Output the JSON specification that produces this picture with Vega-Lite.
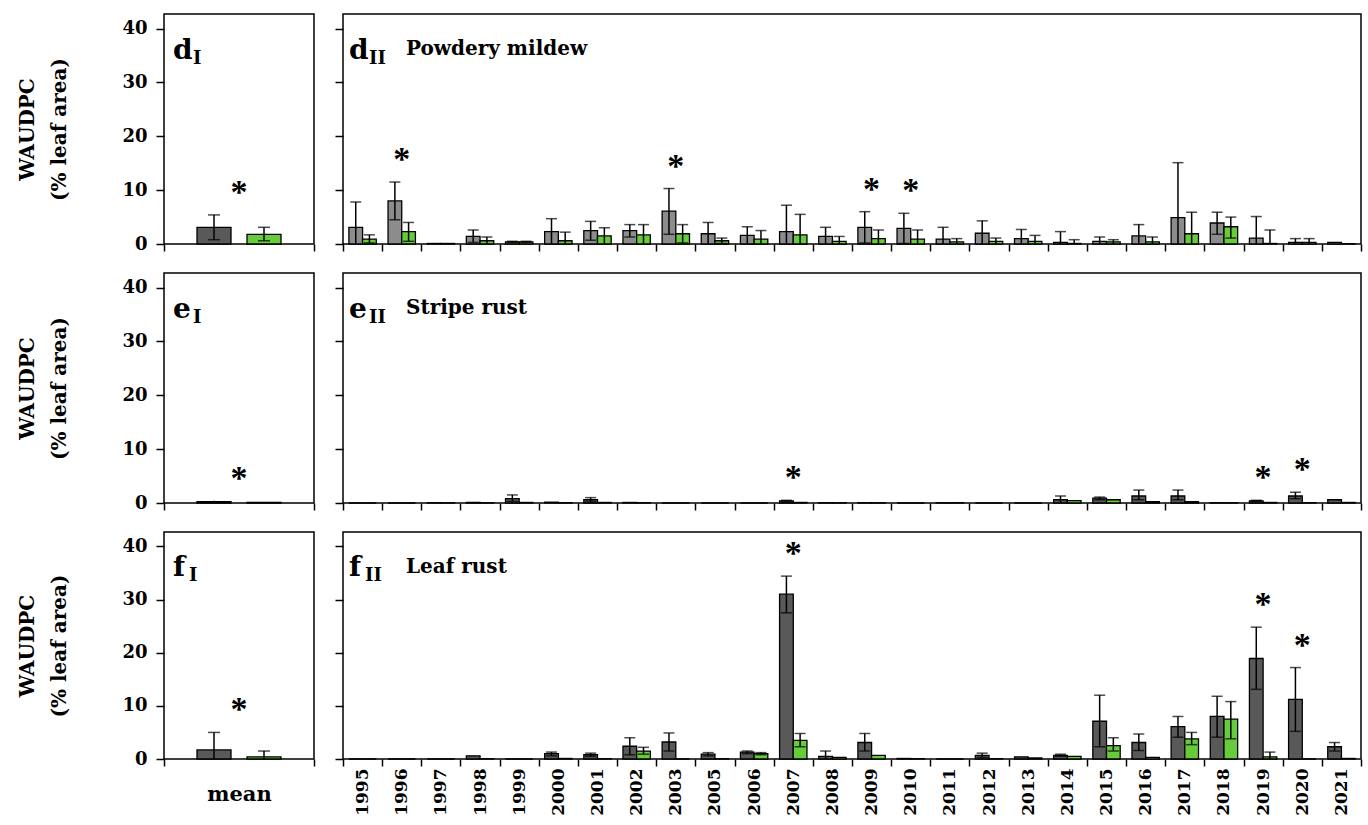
{
  "$schema": "https://vega.github.io/schema/vega-lite/v6.json",
  "autosize": {"type": "pad"},
  "padding": {"left": 17, "top": 13, "right": 0, "bottom": 0},
  "background": "white",
  "config": {
    "view": {"stroke": "black", "strokeWidth": 1.5},
    "axis": {"domain": false, "grid": false, "tickColor": "black", "tickWidth": 1.5, "labelFont": "DejaVu Serif", "labelFontWeight": "bold", "labelColor": "black", "titleColor": "black", "titleFont": "DejaVu Serif", "titleFontWeight": "bold"},
    "axisY": {"tickSize": 8, "labelFontSize": 18, "labelPadding": 9, "titleFontSize": 20, "titleLineHeight": 32, "titlePadding": 52},
    "axisX": {"tickSize": 7, "tickBand": "extent", "labelOverlap": false},
    "text": {"font": "DejaVu Serif", "fontWeight": "bold", "color": "black"}
  },
  "datasets": {
    "years": [
      {"p":"d","year":"1995","trt":"A","m":3.1,"lo":0,"hi":7.8},{"p":"d","year":"1995","trt":"B","m":0.9,"lo":0.2,"hi":1.7},
      {"p":"d","year":"1996","trt":"A","m":8.0,"lo":4.5,"hi":11.5,"s":"*"},{"p":"d","year":"1996","trt":"B","m":2.3,"lo":0.5,"hi":4.0},
      {"p":"d","year":"1997","trt":"A","m":0.1},{"p":"d","year":"1997","trt":"B","m":0.1},
      {"p":"d","year":"1998","trt":"A","m":1.4,"lo":0.3,"hi":2.6},{"p":"d","year":"1998","trt":"B","m":0.6,"lo":0,"hi":1.3},
      {"p":"d","year":"1999","trt":"A","m":0.4,"lo":0.3,"hi":0.5},{"p":"d","year":"1999","trt":"B","m":0.4,"lo":0.3,"hi":0.5},
      {"p":"d","year":"2000","trt":"A","m":2.3,"lo":0,"hi":4.7},{"p":"d","year":"2000","trt":"B","m":0.6,"lo":0,"hi":2.2},
      {"p":"d","year":"2001","trt":"A","m":2.5,"lo":0.7,"hi":4.2},{"p":"d","year":"2001","trt":"B","m":1.5,"lo":0,"hi":3.0},
      {"p":"d","year":"2002","trt":"A","m":2.5,"lo":1.3,"hi":3.6},{"p":"d","year":"2002","trt":"B","m":1.7,"lo":0,"hi":3.6},
      {"p":"d","year":"2003","trt":"A","m":6.1,"lo":1.8,"hi":10.3,"s":"*"},{"p":"d","year":"2003","trt":"B","m":1.9,"lo":0.2,"hi":3.6},
      {"p":"d","year":"2005","trt":"A","m":1.9,"lo":0,"hi":4.0},{"p":"d","year":"2005","trt":"B","m":0.6,"lo":0.1,"hi":1.1},
      {"p":"d","year":"2006","trt":"A","m":1.6,"lo":0,"hi":3.2},{"p":"d","year":"2006","trt":"B","m":0.9,"lo":0,"hi":2.5},
      {"p":"d","year":"2007","trt":"A","m":2.3,"lo":0,"hi":7.2},{"p":"d","year":"2007","trt":"B","m":1.7,"lo":0,"hi":5.5},
      {"p":"d","year":"2008","trt":"A","m":1.4,"lo":0,"hi":3.1},{"p":"d","year":"2008","trt":"B","m":0.5,"lo":0,"hi":1.4},
      {"p":"d","year":"2009","trt":"A","m":3.1,"lo":0.2,"hi":6.0,"s":"*"},{"p":"d","year":"2009","trt":"B","m":1.0,"lo":0,"hi":2.6},
      {"p":"d","year":"2010","trt":"A","m":2.9,"lo":0.1,"hi":5.7,"s":"*"},{"p":"d","year":"2010","trt":"B","m":0.9,"lo":0,"hi":2.6},
      {"p":"d","year":"2011","trt":"A","m":0.9,"lo":0,"hi":3.1},{"p":"d","year":"2011","trt":"B","m":0.4,"lo":0,"hi":1.0},
      {"p":"d","year":"2012","trt":"A","m":2.0,"lo":0,"hi":4.3},{"p":"d","year":"2012","trt":"B","m":0.5,"lo":0,"hi":1.1},
      {"p":"d","year":"2013","trt":"A","m":1.0,"lo":0,"hi":2.7},{"p":"d","year":"2013","trt":"B","m":0.5,"lo":0,"hi":1.6},
      {"p":"d","year":"2014","trt":"A","m":0.3,"lo":0,"hi":2.3},{"p":"d","year":"2014","trt":"B","m":0.1,"lo":0,"hi":0.8},
      {"p":"d","year":"2015","trt":"A","m":0.5,"lo":0,"hi":1.3},{"p":"d","year":"2015","trt":"B","m":0.4,"lo":0,"hi":0.8},
      {"p":"d","year":"2016","trt":"A","m":1.5,"lo":0,"hi":3.6},{"p":"d","year":"2016","trt":"B","m":0.4,"lo":0,"hi":1.3},
      {"p":"d","year":"2017","trt":"A","m":4.9,"lo":0,"hi":15.1},{"p":"d","year":"2017","trt":"B","m":1.9,"lo":0,"hi":5.9},
      {"p":"d","year":"2018","trt":"A","m":3.9,"lo":1.8,"hi":5.9},{"p":"d","year":"2018","trt":"B","m":3.2,"lo":1.1,"hi":5.0},
      {"p":"d","year":"2019","trt":"A","m":1.1,"lo":0,"hi":5.1},{"p":"d","year":"2019","trt":"B","m":0.1,"lo":0,"hi":2.6},
      {"p":"d","year":"2020","trt":"A","m":0.3,"lo":0,"hi":1.0},{"p":"d","year":"2020","trt":"B","m":0.3,"lo":0,"hi":1.0},
      {"p":"d","year":"2021","trt":"A","m":0.3},{"p":"d","year":"2021","trt":"B","m":0.05},

      {"p":"e","year":"1995","trt":"A","m":0},{"p":"e","year":"1995","trt":"B","m":0},
      {"p":"e","year":"1996","trt":"A","m":0},{"p":"e","year":"1996","trt":"B","m":0},
      {"p":"e","year":"1997","trt":"A","m":0.05},{"p":"e","year":"1997","trt":"B","m":0.05},
      {"p":"e","year":"1998","trt":"A","m":0.1},{"p":"e","year":"1998","trt":"B","m":0.05},
      {"p":"e","year":"1999","trt":"A","m":0.8,"lo":0.3,"hi":1.5},{"p":"e","year":"1999","trt":"B","m":0.1},
      {"p":"e","year":"2000","trt":"A","m":0.15},{"p":"e","year":"2000","trt":"B","m":0.05},
      {"p":"e","year":"2001","trt":"A","m":0.6,"lo":0.2,"hi":1.0},{"p":"e","year":"2001","trt":"B","m":0.1},
      {"p":"e","year":"2002","trt":"A","m":0.1},{"p":"e","year":"2002","trt":"B","m":0.05},
      {"p":"e","year":"2003","trt":"A","m":0},{"p":"e","year":"2003","trt":"B","m":0},
      {"p":"e","year":"2005","trt":"A","m":0},{"p":"e","year":"2005","trt":"B","m":0},
      {"p":"e","year":"2006","trt":"A","m":0},{"p":"e","year":"2006","trt":"B","m":0},
      {"p":"e","year":"2007","trt":"A","m":0.4,"lo":0.2,"hi":0.5,"s":"*"},{"p":"e","year":"2007","trt":"B","m":0.1},
      {"p":"e","year":"2008","trt":"A","m":0.05},{"p":"e","year":"2008","trt":"B","m":0.05},
      {"p":"e","year":"2009","trt":"A","m":0.05},{"p":"e","year":"2009","trt":"B","m":0.05},
      {"p":"e","year":"2010","trt":"A","m":0},{"p":"e","year":"2010","trt":"B","m":0},
      {"p":"e","year":"2011","trt":"A","m":0.05},{"p":"e","year":"2011","trt":"B","m":0.05},
      {"p":"e","year":"2012","trt":"A","m":0},{"p":"e","year":"2012","trt":"B","m":0},
      {"p":"e","year":"2013","trt":"A","m":0},{"p":"e","year":"2013","trt":"B","m":0},
      {"p":"e","year":"2014","trt":"A","m":0.6,"lo":0,"hi":1.3},{"p":"e","year":"2014","trt":"B","m":0.45},
      {"p":"e","year":"2015","trt":"A","m":0.9,"lo":0.6,"hi":1.1},{"p":"e","year":"2015","trt":"B","m":0.6},
      {"p":"e","year":"2016","trt":"A","m":1.3,"lo":0.6,"hi":2.4},{"p":"e","year":"2016","trt":"B","m":0.25},
      {"p":"e","year":"2017","trt":"A","m":1.3,"lo":0.6,"hi":2.4},{"p":"e","year":"2017","trt":"B","m":0.25},
      {"p":"e","year":"2018","trt":"A","m":0.05},{"p":"e","year":"2018","trt":"B","m":0.05},
      {"p":"e","year":"2019","trt":"A","m":0.4,"lo":0.3,"hi":0.5,"s":"*"},{"p":"e","year":"2019","trt":"B","m":0.1},
      {"p":"e","year":"2020","trt":"A","m":1.3,"lo":0.8,"hi":2.0,"s":"*"},{"p":"e","year":"2020","trt":"B","m":0.05},
      {"p":"e","year":"2021","trt":"A","m":0.6},{"p":"e","year":"2021","trt":"B","m":0.1},

      {"p":"f","year":"1995","trt":"A","m":0},{"p":"f","year":"1995","trt":"B","m":0},
      {"p":"f","year":"1996","trt":"A","m":0},{"p":"f","year":"1996","trt":"B","m":0},
      {"p":"f","year":"1997","trt":"A","m":0},{"p":"f","year":"1997","trt":"B","m":0},
      {"p":"f","year":"1998","trt":"A","m":0.6},{"p":"f","year":"1998","trt":"B","m":0.05},
      {"p":"f","year":"1999","trt":"A","m":0},{"p":"f","year":"1999","trt":"B","m":0},
      {"p":"f","year":"2000","trt":"A","m":1.0,"lo":0.6,"hi":1.3},{"p":"f","year":"2000","trt":"B","m":0.1},
      {"p":"f","year":"2001","trt":"A","m":0.8,"lo":0.5,"hi":1.1},{"p":"f","year":"2001","trt":"B","m":0.05},
      {"p":"f","year":"2002","trt":"A","m":2.4,"lo":0.8,"hi":4.0},{"p":"f","year":"2002","trt":"B","m":1.5,"lo":0.9,"hi":2.2},
      {"p":"f","year":"2003","trt":"A","m":3.2,"lo":1.5,"hi":4.9},{"p":"f","year":"2003","trt":"B","m":0},
      {"p":"f","year":"2005","trt":"A","m":0.9,"lo":0.6,"hi":1.2},{"p":"f","year":"2005","trt":"B","m":0.05},
      {"p":"f","year":"2006","trt":"A","m":1.3,"lo":1.0,"hi":1.5},{"p":"f","year":"2006","trt":"B","m":1.0,"lo":0.8,"hi":1.2},
      {"p":"f","year":"2007","trt":"A","m":31.0,"lo":27.5,"hi":34.4,"s":"*"},{"p":"f","year":"2007","trt":"B","m":3.5,"lo":2.3,"hi":4.8},
      {"p":"f","year":"2008","trt":"A","m":0.5,"lo":0,"hi":1.5},{"p":"f","year":"2008","trt":"B","m":0.3},
      {"p":"f","year":"2009","trt":"A","m":3.1,"lo":1.5,"hi":4.8},{"p":"f","year":"2009","trt":"B","m":0.7},
      {"p":"f","year":"2010","trt":"A","m":0.1},{"p":"f","year":"2010","trt":"B","m":0.05},
      {"p":"f","year":"2011","trt":"A","m":0},{"p":"f","year":"2011","trt":"B","m":0},
      {"p":"f","year":"2012","trt":"A","m":0.7,"lo":0.3,"hi":1.1},{"p":"f","year":"2012","trt":"B","m":0.05},
      {"p":"f","year":"2013","trt":"A","m":0.4},{"p":"f","year":"2013","trt":"B","m":0.2},
      {"p":"f","year":"2014","trt":"A","m":0.7,"lo":0.5,"hi":0.9},{"p":"f","year":"2014","trt":"B","m":0.5},
      {"p":"f","year":"2015","trt":"A","m":7.1,"lo":2.3,"hi":12.0},{"p":"f","year":"2015","trt":"B","m":2.5,"lo":1.5,"hi":4.0},
      {"p":"f","year":"2016","trt":"A","m":3.1,"lo":1.6,"hi":4.7},{"p":"f","year":"2016","trt":"B","m":0.3},
      {"p":"f","year":"2017","trt":"A","m":6.1,"lo":4.1,"hi":8.0},{"p":"f","year":"2017","trt":"B","m":3.8,"lo":2.7,"hi":5.0},
      {"p":"f","year":"2018","trt":"A","m":8.0,"lo":4.1,"hi":11.8},{"p":"f","year":"2018","trt":"B","m":7.5,"lo":3.8,"hi":10.8},
      {"p":"f","year":"2019","trt":"A","m":18.9,"lo":13.1,"hi":24.8,"s":"*"},{"p":"f","year":"2019","trt":"B","m":0.4,"lo":0,"hi":1.3},
      {"p":"f","year":"2020","trt":"A","m":11.2,"lo":5.2,"hi":17.2,"s":"*"},{"p":"f","year":"2020","trt":"B","m":0},
      {"p":"f","year":"2021","trt":"A","m":2.3,"lo":1.5,"hi":3.1},{"p":"f","year":"2021","trt":"B","m":0.1}
    ],
    "means": [
      {"p":"d","cat":"mean","trt":"A","m":3.1,"lo":0.8,"hi":5.4,"s":"*"},{"p":"d","cat":"mean","trt":"B","m":1.8,"lo":0.6,"hi":3.1},
      {"p":"e","cat":"mean","trt":"A","m":0.25,"lo":0.1,"hi":0.4,"s":"*"},{"p":"e","cat":"mean","trt":"B","m":0.1},
      {"p":"f","cat":"mean","trt":"A","m":1.7,"lo":0,"hi":5.0,"s":"*"},{"p":"f","cat":"mean","trt":"B","m":0.4,"lo":0,"hi":1.5}
    ],
    "labels": [
      {"p":"d","letter":"d","sub1":"I","sub2":"II","name":"Powdery mildew"},
      {"p":"e","letter":"e","sub1":"I","sub2":"II","name":"Stripe rust"},
      {"p":"f","letter":"f","sub1":"I","sub2":"II","name":"Leaf rust"}
    ]
  },
  "spacing": 18,
  "resolve": {"scale": {"xOffset": "independent"}},
  "vconcat": [
    {"spacing": 17, "resolve": {"scale": {"xOffset": "independent"}}, "hconcat": [
      {"width": 150, "height": 230, "layer": [
        {"data": {"name": "means"}, "transform": [{"filter": "datum.p === 'd'"}],
         "mark": {"type": "bar", "stroke": "black", "strokeWidth": 1.3},
         "encoding": {
           "x": {"field": "cat", "type": "nominal", "scale": {"type": "band", "paddingInner": 0, "paddingOuter": 0}, "axis": {"title": null, "labels": false}},
           "xOffset": {"field": "trt", "type": "nominal", "scale": {"type": "band", "paddingInner": 0.32, "paddingOuter": 0.66}},
           "y": {"field": "m", "type": "quantitative", "scale": {"domain": [0, 42.7], "nice": false}, "axis": {"values": [0,10,20,30,40], "title": ["WAUDPC", "(% leaf area)"]}},
           "fill": {"condition": {"test": "datum.trt === 'B'", "value": "#66cc3c"}, "value": "#595959"}}},
        {"data": {"name": "means"}, "transform": [{"filter": "datum.p === 'd' && datum.hi != null"}],
         "mark": {"type": "rule", "color": "black", "strokeWidth": 1.5},
         "encoding": {
           "x": {"field": "cat", "type": "nominal", "scale": {"type": "band", "paddingInner": 0, "paddingOuter": 0}, "axis": {"title": null, "labels": false}},
           "xOffset": {"field": "trt", "type": "nominal", "scale": {"type": "band", "paddingInner": 0.32, "paddingOuter": 0.66}},
           "y": {"field": "lo", "type": "quantitative", "scale": {"domain": [0, 42.7], "nice": false}, "axis": {"values": [0,10,20,30,40], "title": ["WAUDPC", "(% leaf area)"]}},
           "y2": {"field": "hi"}}},
        {"data": {"name": "means"}, "transform": [{"filter": "datum.p === 'd' && datum.hi != null"}],
         "mark": {"type": "tick", "color": "black", "thickness": 1.5, "size": 12},
         "encoding": {
           "x": {"field": "cat", "type": "nominal", "scale": {"type": "band", "paddingInner": 0, "paddingOuter": 0}, "axis": {"title": null, "labels": false}},
           "xOffset": {"field": "trt", "type": "nominal", "scale": {"type": "band", "paddingInner": 0.32, "paddingOuter": 0.66}},
           "y": {"field": "hi", "type": "quantitative", "scale": {"domain": [0, 42.7], "nice": false}, "axis": {"values": [0,10,20,30,40], "title": ["WAUDPC", "(% leaf area)"]}}}},
        {"data": {"name": "means"}, "transform": [{"filter": "datum.p === 'd' && datum.lo > 0"}],
         "mark": {"type": "tick", "color": "black", "thickness": 1.5, "size": 12},
         "encoding": {
           "x": {"field": "cat", "type": "nominal", "scale": {"type": "band", "paddingInner": 0, "paddingOuter": 0}, "axis": {"title": null, "labels": false}},
           "xOffset": {"field": "trt", "type": "nominal", "scale": {"type": "band", "paddingInner": 0.32, "paddingOuter": 0.66}},
           "y": {"field": "lo", "type": "quantitative", "scale": {"domain": [0, 42.7], "nice": false}, "axis": {"values": [0,10,20,30,40], "title": ["WAUDPC", "(% leaf area)"]}}}},
        {"data": {"name": "means"}, "transform": [{"filter": "datum.p === 'd' && datum.s === '*'"}],
         "mark": {"type": "text", "fontSize": 34, "baseline": "alphabetic", "dy": -12, "font": "Liberation Serif"},
         "encoding": {
           "x": {"field": "cat", "type": "nominal", "scale": {"type": "band", "paddingInner": 0, "paddingOuter": 0}, "axis": {"title": null, "labels": false}},
           "y": {"field": "hi", "type": "quantitative", "scale": {"domain": [0, 42.7], "nice": false}, "axis": {"values": [0,10,20,30,40], "title": ["WAUDPC", "(% leaf area)"]}},
           "text": {"field": "s"}}},
        {"data": {"name": "labels"}, "transform": [{"filter": "datum.p === 'd'"}],
         "mark": {"type": "text", "fontSize": 28, "align": "left", "baseline": "alphabetic", "dx": -66},
         "encoding": {
           "x": {"datum": "mean", "type": "nominal", "scale": {"type": "band", "paddingInner": 0, "paddingOuter": 0}, "axis": {"title": null, "labels": false}},
           "y": {"datum": 34.4, "type": "quantitative", "scale": {"domain": [0, 42.7], "nice": false}, "axis": {"values": [0,10,20,30,40], "title": ["WAUDPC", "(% leaf area)"]}},
           "text": {"field": "letter"}}},
        {"data": {"name": "labels"}, "transform": [{"filter": "datum.p === 'd'"}],
         "mark": {"type": "text", "fontSize": 18, "align": "left", "baseline": "alphabetic", "dx": -46},
         "encoding": {
           "x": {"datum": "mean", "type": "nominal", "scale": {"type": "band", "paddingInner": 0, "paddingOuter": 0}, "axis": {"title": null, "labels": false}},
           "y": {"datum": 33.4, "type": "quantitative", "scale": {"domain": [0, 42.7], "nice": false}, "axis": {"values": [0,10,20,30,40], "title": ["WAUDPC", "(% leaf area)"]}},
           "text": {"field": "sub1"}}}
      ]},
      {"width": 1018, "height": 230, "layer": [
        {"data": {"name": "years"}, "transform": [{"filter": "datum.p === 'd'"}],
         "mark": {"type": "bar", "stroke": "black", "strokeWidth": 1.3},
         "encoding": {
           "x": {"field": "year", "type": "nominal", "scale": {"type": "band", "domain": ["1995","1996","1997","1998","1999","2000","2001","2002","2003","2005","2006","2007","2008","2009","2010","2011","2012","2013","2014","2015","2016","2017","2018","2019","2020","2021"], "paddingInner": 0, "paddingOuter": 0}, "axis": {"title": null, "labels": false}},
           "xOffset": {"field": "trt", "type": "nominal", "scale": {"type": "band", "paddingInner": 0, "paddingOuter": 0.43}},
           "y": {"field": "m", "type": "quantitative", "scale": {"domain": [0, 42.7], "nice": false}, "axis": {"values": [0,10,20,30,40], "title": null, "labels": false}},
           "fill": {"condition": {"test": "datum.trt === 'B'", "value": "#66cc3c"}, "value": "#8c8c8c"}}},
        {"data": {"name": "years"}, "transform": [{"filter": "datum.p === 'd' && datum.hi != null"}],
         "mark": {"type": "rule", "color": "black", "strokeWidth": 1.5},
         "encoding": {
           "x": {"field": "year", "type": "nominal", "scale": {"type": "band", "domain": ["1995","1996","1997","1998","1999","2000","2001","2002","2003","2005","2006","2007","2008","2009","2010","2011","2012","2013","2014","2015","2016","2017","2018","2019","2020","2021"], "paddingInner": 0, "paddingOuter": 0}, "axis": {"title": null, "labels": false}},
           "xOffset": {"field": "trt", "type": "nominal", "scale": {"type": "band", "paddingInner": 0, "paddingOuter": 0.43}},
           "y": {"field": "lo", "type": "quantitative", "scale": {"domain": [0, 42.7], "nice": false}, "axis": {"values": [0,10,20,30,40], "title": null, "labels": false}},
           "y2": {"field": "hi"}}},
        {"data": {"name": "years"}, "transform": [{"filter": "datum.p === 'd' && datum.hi != null"}],
         "mark": {"type": "tick", "color": "black", "thickness": 1.5, "size": 11},
         "encoding": {
           "x": {"field": "year", "type": "nominal", "scale": {"type": "band", "domain": ["1995","1996","1997","1998","1999","2000","2001","2002","2003","2005","2006","2007","2008","2009","2010","2011","2012","2013","2014","2015","2016","2017","2018","2019","2020","2021"], "paddingInner": 0, "paddingOuter": 0}, "axis": {"title": null, "labels": false}},
           "xOffset": {"field": "trt", "type": "nominal", "scale": {"type": "band", "paddingInner": 0, "paddingOuter": 0.43}},
           "y": {"field": "hi", "type": "quantitative", "scale": {"domain": [0, 42.7], "nice": false}, "axis": {"values": [0,10,20,30,40], "title": null, "labels": false}}}},
        {"data": {"name": "years"}, "transform": [{"filter": "datum.p === 'd' && datum.lo > 0"}],
         "mark": {"type": "tick", "color": "black", "thickness": 1.5, "size": 11},
         "encoding": {
           "x": {"field": "year", "type": "nominal", "scale": {"type": "band", "domain": ["1995","1996","1997","1998","1999","2000","2001","2002","2003","2005","2006","2007","2008","2009","2010","2011","2012","2013","2014","2015","2016","2017","2018","2019","2020","2021"], "paddingInner": 0, "paddingOuter": 0}, "axis": {"title": null, "labels": false}},
           "xOffset": {"field": "trt", "type": "nominal", "scale": {"type": "band", "paddingInner": 0, "paddingOuter": 0.43}},
           "y": {"field": "lo", "type": "quantitative", "scale": {"domain": [0, 42.7], "nice": false}, "axis": {"values": [0,10,20,30,40], "title": null, "labels": false}}}},
        {"data": {"name": "years"}, "transform": [{"filter": "datum.p === 'd' && datum.s === '*'"}],
         "mark": {"type": "text", "fontSize": 34, "baseline": "alphabetic", "dy": -12, "font": "Liberation Serif"},
         "encoding": {
           "x": {"field": "year", "type": "nominal", "scale": {"type": "band", "domain": ["1995","1996","1997","1998","1999","2000","2001","2002","2003","2005","2006","2007","2008","2009","2010","2011","2012","2013","2014","2015","2016","2017","2018","2019","2020","2021"], "paddingInner": 0, "paddingOuter": 0}, "axis": {"title": null, "labels": false}},
           "y": {"field": "hi", "type": "quantitative", "scale": {"domain": [0, 42.7], "nice": false}, "axis": {"values": [0,10,20,30,40], "title": null, "labels": false}},
           "text": {"field": "s"}}},
        {"data": {"name": "labels"}, "transform": [{"filter": "datum.p === 'd'"}],
         "mark": {"type": "text", "fontSize": 28, "align": "left", "baseline": "alphabetic", "dx": -13.6},
         "encoding": {
           "x": {"datum": "1995", "type": "nominal", "scale": {"type": "band", "domain": ["1995","1996","1997","1998","1999","2000","2001","2002","2003","2005","2006","2007","2008","2009","2010","2011","2012","2013","2014","2015","2016","2017","2018","2019","2020","2021"], "paddingInner": 0, "paddingOuter": 0}, "axis": {"title": null, "labels": false}},
           "y": {"datum": 34.4, "type": "quantitative", "scale": {"domain": [0, 42.7], "nice": false}, "axis": {"values": [0,10,20,30,40], "title": null, "labels": false}},
           "text": {"field": "letter"}}},
        {"data": {"name": "labels"}, "transform": [{"filter": "datum.p === 'd'"}],
         "mark": {"type": "text", "fontSize": 18, "align": "left", "baseline": "alphabetic", "dx": 6.5},
         "encoding": {
           "x": {"datum": "1995", "type": "nominal", "scale": {"type": "band", "domain": ["1995","1996","1997","1998","1999","2000","2001","2002","2003","2005","2006","2007","2008","2009","2010","2011","2012","2013","2014","2015","2016","2017","2018","2019","2020","2021"], "paddingInner": 0, "paddingOuter": 0}, "axis": {"title": null, "labels": false}},
           "y": {"datum": 33.4, "type": "quantitative", "scale": {"domain": [0, 42.7], "nice": false}, "axis": {"values": [0,10,20,30,40], "title": null, "labels": false}},
           "text": {"field": "sub2"}}},
        {"data": {"name": "labels"}, "transform": [{"filter": "datum.p === 'd'"}],
         "mark": {"type": "text", "fontSize": 20, "align": "left", "baseline": "alphabetic", "dx": 43.4},
         "encoding": {
           "x": {"datum": "1995", "type": "nominal", "scale": {"type": "band", "domain": ["1995","1996","1997","1998","1999","2000","2001","2002","2003","2005","2006","2007","2008","2009","2010","2011","2012","2013","2014","2015","2016","2017","2018","2019","2020","2021"], "paddingInner": 0, "paddingOuter": 0}, "axis": {"title": null, "labels": false}},
           "y": {"datum": 35.0, "type": "quantitative", "scale": {"domain": [0, 42.7], "nice": false}, "axis": {"values": [0,10,20,30,40], "title": null, "labels": false}},
           "text": {"field": "name"}}}
      ]}
    ]},
    {"spacing": 17, "resolve": {"scale": {"xOffset": "independent"}}, "hconcat": [
      {"width": 150, "height": 230, "layer": [
        {"data": {"name": "means"}, "transform": [{"filter": "datum.p === 'e'"}],
         "mark": {"type": "bar", "stroke": "black", "strokeWidth": 1.3},
         "encoding": {
           "x": {"field": "cat", "type": "nominal", "scale": {"type": "band", "paddingInner": 0, "paddingOuter": 0}, "axis": {"title": null, "labels": false}},
           "xOffset": {"field": "trt", "type": "nominal", "scale": {"type": "band", "paddingInner": 0.32, "paddingOuter": 0.66}},
           "y": {"field": "m", "type": "quantitative", "scale": {"domain": [0, 42.7], "nice": false}, "axis": {"values": [0,10,20,30,40], "title": ["WAUDPC", "(% leaf area)"]}},
           "fill": {"condition": {"test": "datum.trt === 'B'", "value": "#66cc3c"}, "value": "#595959"}}},
        {"data": {"name": "means"}, "transform": [{"filter": "datum.p === 'e' && datum.hi != null"}],
         "mark": {"type": "rule", "color": "black", "strokeWidth": 1.5},
         "encoding": {
           "x": {"field": "cat", "type": "nominal", "scale": {"type": "band", "paddingInner": 0, "paddingOuter": 0}, "axis": {"title": null, "labels": false}},
           "xOffset": {"field": "trt", "type": "nominal", "scale": {"type": "band", "paddingInner": 0.32, "paddingOuter": 0.66}},
           "y": {"field": "lo", "type": "quantitative", "scale": {"domain": [0, 42.7], "nice": false}, "axis": {"values": [0,10,20,30,40], "title": ["WAUDPC", "(% leaf area)"]}},
           "y2": {"field": "hi"}}},
        {"data": {"name": "means"}, "transform": [{"filter": "datum.p === 'e' && datum.s === '*'"}],
         "mark": {"type": "text", "fontSize": 34, "baseline": "alphabetic", "dy": -12, "font": "Liberation Serif"},
         "encoding": {
           "x": {"field": "cat", "type": "nominal", "scale": {"type": "band", "paddingInner": 0, "paddingOuter": 0}, "axis": {"title": null, "labels": false}},
           "y": {"field": "hi", "type": "quantitative", "scale": {"domain": [0, 42.7], "nice": false}, "axis": {"values": [0,10,20,30,40], "title": ["WAUDPC", "(% leaf area)"]}},
           "text": {"field": "s"}}},
        {"data": {"name": "labels"}, "transform": [{"filter": "datum.p === 'e'"}],
         "mark": {"type": "text", "fontSize": 28, "align": "left", "baseline": "alphabetic", "dx": -66},
         "encoding": {
           "x": {"datum": "mean", "type": "nominal", "scale": {"type": "band", "paddingInner": 0, "paddingOuter": 0}, "axis": {"title": null, "labels": false}},
           "y": {"datum": 34.4, "type": "quantitative", "scale": {"domain": [0, 42.7], "nice": false}, "axis": {"values": [0,10,20,30,40], "title": ["WAUDPC", "(% leaf area)"]}},
           "text": {"field": "letter"}}},
        {"data": {"name": "labels"}, "transform": [{"filter": "datum.p === 'e'"}],
         "mark": {"type": "text", "fontSize": 18, "align": "left", "baseline": "alphabetic", "dx": -46},
         "encoding": {
           "x": {"datum": "mean", "type": "nominal", "scale": {"type": "band", "paddingInner": 0, "paddingOuter": 0}, "axis": {"title": null, "labels": false}},
           "y": {"datum": 33.4, "type": "quantitative", "scale": {"domain": [0, 42.7], "nice": false}, "axis": {"values": [0,10,20,30,40], "title": ["WAUDPC", "(% leaf area)"]}},
           "text": {"field": "sub1"}}}
      ]},
      {"width": 1018, "height": 230, "layer": [
        {"data": {"name": "years"}, "transform": [{"filter": "datum.p === 'e'"}],
         "mark": {"type": "bar", "stroke": "black", "strokeWidth": 1.3},
         "encoding": {
           "x": {"field": "year", "type": "nominal", "scale": {"type": "band", "domain": ["1995","1996","1997","1998","1999","2000","2001","2002","2003","2005","2006","2007","2008","2009","2010","2011","2012","2013","2014","2015","2016","2017","2018","2019","2020","2021"], "paddingInner": 0, "paddingOuter": 0}, "axis": {"title": null, "labels": false}},
           "xOffset": {"field": "trt", "type": "nominal", "scale": {"type": "band", "paddingInner": 0, "paddingOuter": 0.43}},
           "y": {"field": "m", "type": "quantitative", "scale": {"domain": [0, 42.7], "nice": false}, "axis": {"values": [0,10,20,30,40], "title": null, "labels": false}},
           "fill": {"condition": {"test": "datum.trt === 'B'", "value": "#66cc3c"}, "value": "#595959"}}},
        {"data": {"name": "years"}, "transform": [{"filter": "datum.p === 'e' && datum.hi != null"}],
         "mark": {"type": "rule", "color": "black", "strokeWidth": 1.5},
         "encoding": {
           "x": {"field": "year", "type": "nominal", "scale": {"type": "band", "domain": ["1995","1996","1997","1998","1999","2000","2001","2002","2003","2005","2006","2007","2008","2009","2010","2011","2012","2013","2014","2015","2016","2017","2018","2019","2020","2021"], "paddingInner": 0, "paddingOuter": 0}, "axis": {"title": null, "labels": false}},
           "xOffset": {"field": "trt", "type": "nominal", "scale": {"type": "band", "paddingInner": 0, "paddingOuter": 0.43}},
           "y": {"field": "lo", "type": "quantitative", "scale": {"domain": [0, 42.7], "nice": false}, "axis": {"values": [0,10,20,30,40], "title": null, "labels": false}},
           "y2": {"field": "hi"}}},
        {"data": {"name": "years"}, "transform": [{"filter": "datum.p === 'e' && datum.hi != null"}],
         "mark": {"type": "tick", "color": "black", "thickness": 1.5, "size": 11},
         "encoding": {
           "x": {"field": "year", "type": "nominal", "scale": {"type": "band", "domain": ["1995","1996","1997","1998","1999","2000","2001","2002","2003","2005","2006","2007","2008","2009","2010","2011","2012","2013","2014","2015","2016","2017","2018","2019","2020","2021"], "paddingInner": 0, "paddingOuter": 0}, "axis": {"title": null, "labels": false}},
           "xOffset": {"field": "trt", "type": "nominal", "scale": {"type": "band", "paddingInner": 0, "paddingOuter": 0.43}},
           "y": {"field": "hi", "type": "quantitative", "scale": {"domain": [0, 42.7], "nice": false}, "axis": {"values": [0,10,20,30,40], "title": null, "labels": false}}}},
        {"data": {"name": "years"}, "transform": [{"filter": "datum.p === 'e' && datum.lo > 0"}],
         "mark": {"type": "tick", "color": "black", "thickness": 1.5, "size": 11},
         "encoding": {
           "x": {"field": "year", "type": "nominal", "scale": {"type": "band", "domain": ["1995","1996","1997","1998","1999","2000","2001","2002","2003","2005","2006","2007","2008","2009","2010","2011","2012","2013","2014","2015","2016","2017","2018","2019","2020","2021"], "paddingInner": 0, "paddingOuter": 0}, "axis": {"title": null, "labels": false}},
           "xOffset": {"field": "trt", "type": "nominal", "scale": {"type": "band", "paddingInner": 0, "paddingOuter": 0.43}},
           "y": {"field": "lo", "type": "quantitative", "scale": {"domain": [0, 42.7], "nice": false}, "axis": {"values": [0,10,20,30,40], "title": null, "labels": false}}}},
        {"data": {"name": "years"}, "transform": [{"filter": "datum.p === 'e' && datum.s === '*'"}],
         "mark": {"type": "text", "fontSize": 34, "baseline": "alphabetic", "dy": -12, "font": "Liberation Serif"},
         "encoding": {
           "x": {"field": "year", "type": "nominal", "scale": {"type": "band", "domain": ["1995","1996","1997","1998","1999","2000","2001","2002","2003","2005","2006","2007","2008","2009","2010","2011","2012","2013","2014","2015","2016","2017","2018","2019","2020","2021"], "paddingInner": 0, "paddingOuter": 0}, "axis": {"title": null, "labels": false}},
           "y": {"field": "hi", "type": "quantitative", "scale": {"domain": [0, 42.7], "nice": false}, "axis": {"values": [0,10,20,30,40], "title": null, "labels": false}},
           "text": {"field": "s"}}},
        {"data": {"name": "labels"}, "transform": [{"filter": "datum.p === 'e'"}],
         "mark": {"type": "text", "fontSize": 28, "align": "left", "baseline": "alphabetic", "dx": -13.6},
         "encoding": {
           "x": {"datum": "1995", "type": "nominal", "scale": {"type": "band", "domain": ["1995","1996","1997","1998","1999","2000","2001","2002","2003","2005","2006","2007","2008","2009","2010","2011","2012","2013","2014","2015","2016","2017","2018","2019","2020","2021"], "paddingInner": 0, "paddingOuter": 0}, "axis": {"title": null, "labels": false}},
           "y": {"datum": 34.4, "type": "quantitative", "scale": {"domain": [0, 42.7], "nice": false}, "axis": {"values": [0,10,20,30,40], "title": null, "labels": false}},
           "text": {"field": "letter"}}},
        {"data": {"name": "labels"}, "transform": [{"filter": "datum.p === 'e'"}],
         "mark": {"type": "text", "fontSize": 18, "align": "left", "baseline": "alphabetic", "dx": 6.5},
         "encoding": {
           "x": {"datum": "1995", "type": "nominal", "scale": {"type": "band", "domain": ["1995","1996","1997","1998","1999","2000","2001","2002","2003","2005","2006","2007","2008","2009","2010","2011","2012","2013","2014","2015","2016","2017","2018","2019","2020","2021"], "paddingInner": 0, "paddingOuter": 0}, "axis": {"title": null, "labels": false}},
           "y": {"datum": 33.4, "type": "quantitative", "scale": {"domain": [0, 42.7], "nice": false}, "axis": {"values": [0,10,20,30,40], "title": null, "labels": false}},
           "text": {"field": "sub2"}}},
        {"data": {"name": "labels"}, "transform": [{"filter": "datum.p === 'e'"}],
         "mark": {"type": "text", "fontSize": 20, "align": "left", "baseline": "alphabetic", "dx": 43.4},
         "encoding": {
           "x": {"datum": "1995", "type": "nominal", "scale": {"type": "band", "domain": ["1995","1996","1997","1998","1999","2000","2001","2002","2003","2005","2006","2007","2008","2009","2010","2011","2012","2013","2014","2015","2016","2017","2018","2019","2020","2021"], "paddingInner": 0, "paddingOuter": 0}, "axis": {"title": null, "labels": false}},
           "y": {"datum": 35.0, "type": "quantitative", "scale": {"domain": [0, 42.7], "nice": false}, "axis": {"values": [0,10,20,30,40], "title": null, "labels": false}},
           "text": {"field": "name"}}}
      ]}
    ]},
    {"spacing": 17, "resolve": {"scale": {"xOffset": "independent"}}, "hconcat": [
      {"width": 150, "height": 227, "layer": [
        {"data": {"name": "means"}, "transform": [{"filter": "datum.p === 'f'"}],
         "mark": {"type": "bar", "stroke": "black", "strokeWidth": 1.3},
         "encoding": {
           "x": {"field": "cat", "type": "nominal", "scale": {"type": "band", "paddingInner": 0, "paddingOuter": 0}, "axis": {"title": null, "labels": true, "labelAngle": 0, "labelFontSize": 21, "labelPadding": 17}},
           "xOffset": {"field": "trt", "type": "nominal", "scale": {"type": "band", "paddingInner": 0.32, "paddingOuter": 0.66}},
           "y": {"field": "m", "type": "quantitative", "scale": {"domain": [0, 42.7], "nice": false}, "axis": {"values": [0,10,20,30,40], "title": ["WAUDPC", "(% leaf area)"]}},
           "fill": {"condition": {"test": "datum.trt === 'B'", "value": "#66cc3c"}, "value": "#595959"}}},
        {"data": {"name": "means"}, "transform": [{"filter": "datum.p === 'f' && datum.hi != null"}],
         "mark": {"type": "rule", "color": "black", "strokeWidth": 1.5},
         "encoding": {
           "x": {"field": "cat", "type": "nominal", "scale": {"type": "band", "paddingInner": 0, "paddingOuter": 0}, "axis": {"title": null, "labels": true, "labelAngle": 0, "labelFontSize": 21, "labelPadding": 17}},
           "xOffset": {"field": "trt", "type": "nominal", "scale": {"type": "band", "paddingInner": 0.32, "paddingOuter": 0.66}},
           "y": {"field": "lo", "type": "quantitative", "scale": {"domain": [0, 42.7], "nice": false}, "axis": {"values": [0,10,20,30,40], "title": ["WAUDPC", "(% leaf area)"]}},
           "y2": {"field": "hi"}}},
        {"data": {"name": "means"}, "transform": [{"filter": "datum.p === 'f' && datum.hi != null"}],
         "mark": {"type": "tick", "color": "black", "thickness": 1.5, "size": 12},
         "encoding": {
           "x": {"field": "cat", "type": "nominal", "scale": {"type": "band", "paddingInner": 0, "paddingOuter": 0}, "axis": {"title": null, "labels": true, "labelAngle": 0, "labelFontSize": 21, "labelPadding": 17}},
           "xOffset": {"field": "trt", "type": "nominal", "scale": {"type": "band", "paddingInner": 0.32, "paddingOuter": 0.66}},
           "y": {"field": "hi", "type": "quantitative", "scale": {"domain": [0, 42.7], "nice": false}, "axis": {"values": [0,10,20,30,40], "title": ["WAUDPC", "(% leaf area)"]}}}},
        {"data": {"name": "means"}, "transform": [{"filter": "datum.p === 'f' && datum.s === '*'"}],
         "mark": {"type": "text", "fontSize": 34, "baseline": "alphabetic", "dy": -12, "font": "Liberation Serif"},
         "encoding": {
           "x": {"field": "cat", "type": "nominal", "scale": {"type": "band", "paddingInner": 0, "paddingOuter": 0}, "axis": {"title": null, "labels": true, "labelAngle": 0, "labelFontSize": 21, "labelPadding": 17}},
           "y": {"field": "hi", "type": "quantitative", "scale": {"domain": [0, 42.7], "nice": false}, "axis": {"values": [0,10,20,30,40], "title": ["WAUDPC", "(% leaf area)"]}},
           "text": {"field": "s"}}},
        {"data": {"name": "labels"}, "transform": [{"filter": "datum.p === 'f'"}],
         "mark": {"type": "text", "fontSize": 28, "align": "left", "baseline": "alphabetic", "dx": -66},
         "encoding": {
           "x": {"datum": "mean", "type": "nominal", "scale": {"type": "band", "paddingInner": 0, "paddingOuter": 0}, "axis": {"title": null, "labels": true, "labelAngle": 0, "labelFontSize": 21, "labelPadding": 17}},
           "y": {"datum": 34.4, "type": "quantitative", "scale": {"domain": [0, 42.7], "nice": false}, "axis": {"values": [0,10,20,30,40], "title": ["WAUDPC", "(% leaf area)"]}},
           "text": {"field": "letter"}}},
        {"data": {"name": "labels"}, "transform": [{"filter": "datum.p === 'f'"}],
         "mark": {"type": "text", "fontSize": 18, "align": "left", "baseline": "alphabetic", "dx": -50},
         "encoding": {
           "x": {"datum": "mean", "type": "nominal", "scale": {"type": "band", "paddingInner": 0, "paddingOuter": 0}, "axis": {"title": null, "labels": true, "labelAngle": 0, "labelFontSize": 21, "labelPadding": 17}},
           "y": {"datum": 33.4, "type": "quantitative", "scale": {"domain": [0, 42.7], "nice": false}, "axis": {"values": [0,10,20,30,40], "title": ["WAUDPC", "(% leaf area)"]}},
           "text": {"field": "sub1"}}}
      ]},
      {"width": 1018, "height": 227, "layer": [
        {"data": {"name": "years"}, "transform": [{"filter": "datum.p === 'f'"}],
         "mark": {"type": "bar", "stroke": "black", "strokeWidth": 1.3},
         "encoding": {
           "x": {"field": "year", "type": "nominal", "scale": {"type": "band", "domain": ["1995","1996","1997","1998","1999","2000","2001","2002","2003","2005","2006","2007","2008","2009","2010","2011","2012","2013","2014","2015","2016","2017","2018","2019","2020","2021"], "paddingInner": 0, "paddingOuter": 0}, "axis": {"title": null, "labels": true, "labelAngle": -90, "labelFontSize": 17, "labelPadding": 2}},
           "xOffset": {"field": "trt", "type": "nominal", "scale": {"type": "band", "paddingInner": 0, "paddingOuter": 0.43}},
           "y": {"field": "m", "type": "quantitative", "scale": {"domain": [0, 42.7], "nice": false}, "axis": {"values": [0,10,20,30,40], "title": null, "labels": false}},
           "fill": {"condition": {"test": "datum.trt === 'B'", "value": "#66cc3c"}, "value": "#595959"}}},
        {"data": {"name": "years"}, "transform": [{"filter": "datum.p === 'f' && datum.hi != null"}],
         "mark": {"type": "rule", "color": "black", "strokeWidth": 1.5},
         "encoding": {
           "x": {"field": "year", "type": "nominal", "scale": {"type": "band", "domain": ["1995","1996","1997","1998","1999","2000","2001","2002","2003","2005","2006","2007","2008","2009","2010","2011","2012","2013","2014","2015","2016","2017","2018","2019","2020","2021"], "paddingInner": 0, "paddingOuter": 0}, "axis": {"title": null, "labels": true, "labelAngle": -90, "labelFontSize": 17, "labelPadding": 2}},
           "xOffset": {"field": "trt", "type": "nominal", "scale": {"type": "band", "paddingInner": 0, "paddingOuter": 0.43}},
           "y": {"field": "lo", "type": "quantitative", "scale": {"domain": [0, 42.7], "nice": false}, "axis": {"values": [0,10,20,30,40], "title": null, "labels": false}},
           "y2": {"field": "hi"}}},
        {"data": {"name": "years"}, "transform": [{"filter": "datum.p === 'f' && datum.hi != null"}],
         "mark": {"type": "tick", "color": "black", "thickness": 1.5, "size": 11},
         "encoding": {
           "x": {"field": "year", "type": "nominal", "scale": {"type": "band", "domain": ["1995","1996","1997","1998","1999","2000","2001","2002","2003","2005","2006","2007","2008","2009","2010","2011","2012","2013","2014","2015","2016","2017","2018","2019","2020","2021"], "paddingInner": 0, "paddingOuter": 0}, "axis": {"title": null, "labels": true, "labelAngle": -90, "labelFontSize": 17, "labelPadding": 2}},
           "xOffset": {"field": "trt", "type": "nominal", "scale": {"type": "band", "paddingInner": 0, "paddingOuter": 0.43}},
           "y": {"field": "hi", "type": "quantitative", "scale": {"domain": [0, 42.7], "nice": false}, "axis": {"values": [0,10,20,30,40], "title": null, "labels": false}}}},
        {"data": {"name": "years"}, "transform": [{"filter": "datum.p === 'f' && datum.lo > 0"}],
         "mark": {"type": "tick", "color": "black", "thickness": 1.5, "size": 11},
         "encoding": {
           "x": {"field": "year", "type": "nominal", "scale": {"type": "band", "domain": ["1995","1996","1997","1998","1999","2000","2001","2002","2003","2005","2006","2007","2008","2009","2010","2011","2012","2013","2014","2015","2016","2017","2018","2019","2020","2021"], "paddingInner": 0, "paddingOuter": 0}, "axis": {"title": null, "labels": true, "labelAngle": -90, "labelFontSize": 17, "labelPadding": 2}},
           "xOffset": {"field": "trt", "type": "nominal", "scale": {"type": "band", "paddingInner": 0, "paddingOuter": 0.43}},
           "y": {"field": "lo", "type": "quantitative", "scale": {"domain": [0, 42.7], "nice": false}, "axis": {"values": [0,10,20,30,40], "title": null, "labels": false}}}},
        {"data": {"name": "years"}, "transform": [{"filter": "datum.p === 'f' && datum.s === '*'"}],
         "mark": {"type": "text", "fontSize": 34, "baseline": "alphabetic", "dy": -12, "font": "Liberation Serif"},
         "encoding": {
           "x": {"field": "year", "type": "nominal", "scale": {"type": "band", "domain": ["1995","1996","1997","1998","1999","2000","2001","2002","2003","2005","2006","2007","2008","2009","2010","2011","2012","2013","2014","2015","2016","2017","2018","2019","2020","2021"], "paddingInner": 0, "paddingOuter": 0}, "axis": {"title": null, "labels": true, "labelAngle": -90, "labelFontSize": 17, "labelPadding": 2}},
           "y": {"field": "hi", "type": "quantitative", "scale": {"domain": [0, 42.7], "nice": false}, "axis": {"values": [0,10,20,30,40], "title": null, "labels": false}},
           "text": {"field": "s"}}},
        {"data": {"name": "labels"}, "transform": [{"filter": "datum.p === 'f'"}],
         "mark": {"type": "text", "fontSize": 28, "align": "left", "baseline": "alphabetic", "dx": -13.6},
         "encoding": {
           "x": {"datum": "1995", "type": "nominal", "scale": {"type": "band", "domain": ["1995","1996","1997","1998","1999","2000","2001","2002","2003","2005","2006","2007","2008","2009","2010","2011","2012","2013","2014","2015","2016","2017","2018","2019","2020","2021"], "paddingInner": 0, "paddingOuter": 0}, "axis": {"title": null, "labels": true, "labelAngle": -90, "labelFontSize": 17, "labelPadding": 2}},
           "y": {"datum": 34.4, "type": "quantitative", "scale": {"domain": [0, 42.7], "nice": false}, "axis": {"values": [0,10,20,30,40], "title": null, "labels": false}},
           "text": {"field": "letter"}}},
        {"data": {"name": "labels"}, "transform": [{"filter": "datum.p === 'f'"}],
         "mark": {"type": "text", "fontSize": 18, "align": "left", "baseline": "alphabetic", "dx": 2.5},
         "encoding": {
           "x": {"datum": "1995", "type": "nominal", "scale": {"type": "band", "domain": ["1995","1996","1997","1998","1999","2000","2001","2002","2003","2005","2006","2007","2008","2009","2010","2011","2012","2013","2014","2015","2016","2017","2018","2019","2020","2021"], "paddingInner": 0, "paddingOuter": 0}, "axis": {"title": null, "labels": true, "labelAngle": -90, "labelFontSize": 17, "labelPadding": 2}},
           "y": {"datum": 33.4, "type": "quantitative", "scale": {"domain": [0, 42.7], "nice": false}, "axis": {"values": [0,10,20,30,40], "title": null, "labels": false}},
           "text": {"field": "sub2"}}},
        {"data": {"name": "labels"}, "transform": [{"filter": "datum.p === 'f'"}],
         "mark": {"type": "text", "fontSize": 20, "align": "left", "baseline": "alphabetic", "dx": 43.4},
         "encoding": {
           "x": {"datum": "1995", "type": "nominal", "scale": {"type": "band", "domain": ["1995","1996","1997","1998","1999","2000","2001","2002","2003","2005","2006","2007","2008","2009","2010","2011","2012","2013","2014","2015","2016","2017","2018","2019","2020","2021"], "paddingInner": 0, "paddingOuter": 0}, "axis": {"title": null, "labels": true, "labelAngle": -90, "labelFontSize": 17, "labelPadding": 2}},
           "y": {"datum": 35.0, "type": "quantitative", "scale": {"domain": [0, 42.7], "nice": false}, "axis": {"values": [0,10,20,30,40], "title": null, "labels": false}},
           "text": {"field": "name"}}}
      ]}
    ]}
  ]
}
